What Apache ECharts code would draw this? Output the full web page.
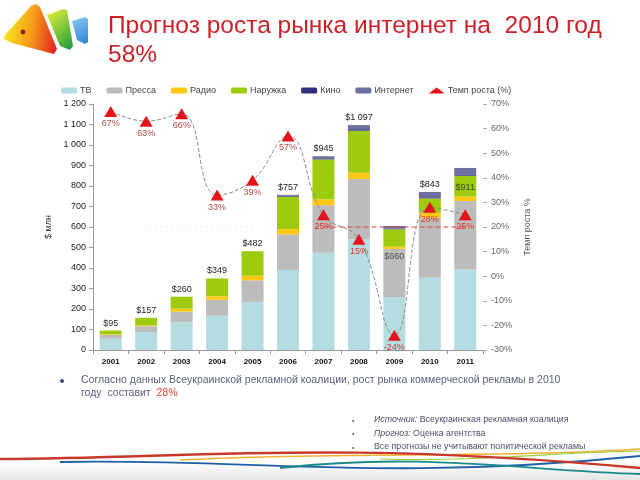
<!DOCTYPE html>
<html><head><meta charset="utf-8">
<script src="https://cdn.jsdelivr.net/npm/echarts@6/dist/echarts.min.js"></script>
<style>html,body{margin:0;padding:0;background:#fff}#c{width:640px;height:480px}</style>
</head><body><div id="c"></div>
<script>
const years = ['2001','2002','2003','2004','2005','2006','2007','2008','2009','2010','2011'];
const tv       = [55, 88, 135, 167, 234, 390, 475, 540, 257, 353, 393];
const press    = [18, 28, 52, 78, 106, 174, 231, 294, 236, 292, 334];
const radio    = [4, 4, 14, 17, 22, 26, 29, 31, 11, 25, 21];
const outdoor  = [18, 37, 59, 87, 120, 158, 195, 205, 85, 70, 102];
const cinema   = [0, 0, 0, 0, 0, 4, 5, 7, 3, 5, 4];
const internet = [0, 0, 0, 0, 0, 5, 10, 20, 13, 26, 34];
const growth   = [67, 63, 66, 33, 39, 57, 25, 15, -24, 28, 25];
const totalLabels = ['$95','$157','$260','$349','$482','$757','$945','$1 097','$660','$843','$911'];
const refRed   = [null, null, null, null, null, null, 20, 20, 20, 20, 20];
const refGray  = [null, 20, 20, 20, 20, null, null, null, null, null, null];

const FONT = 'Liberation Sans';
const chart = echarts.init(document.getElementById('c'));

const totalData = internet.map((v, i) => {
  if (i === 8) return {value: v, label: {offset: [0, 38], color: '#555'}};
  if (i === 10) return {value: v, label: {offset: [0, 27], color: '#3a4a20'}};
  return v;
});
const growthData = growth.map((v, i) => ({
  value: v,
  label: {color: i < 6 ? '#b24a48' : '#e3302c'}
}));

function bar(name, data, color, extra) {
  return Object.assign({
    name, type: 'bar', stack: 'total', data, barWidth: 22,
    itemStyle: {color}, emphasis: {disabled: true}
  }, extra || {});
}

const option = {
  animation: false,
  textStyle: {fontFamily: FONT},
  title: {
    text: 'Прогноз роста рынка интернет на  2010 год\n58%',
    left: 103, top: 7,
    textStyle: {color: '#cf1f26', fontSize: 24.5, fontWeight: 'normal', fontFamily: FONT, lineHeight: 29}
  },
  legend: {
    left: 56, top: 81, itemWidth: 16, itemHeight: 6, itemGap: 15,
    textStyle: {fontSize: 9, color: '#444', fontFamily: FONT, padding: [0, 0, 0, -2]},
    data: ['ТВ','Пресса','Радио','Наружка','Кино','Интернет',{name:'Темп роста (%)', icon:'triangle'}]
  },
  grid: {left: 93, right: 157, top: 104, bottom: 130, containLabel: false, outerBoundsMode: 'none'},
  xAxis: {
    type: 'category', data: years,
    axisLine: {lineStyle: {color: '#999'}},
    axisTick: {show: true, length: 4, lineStyle: {color: '#999'}},
    axisLabel: {color: '#111', fontSize: 8, fontWeight: 'bold', margin: 8}
  },
  yAxis: [
    {
      type: 'value', min: 0, max: 1200, interval: 100,
      name: '$ млн', nameLocation: 'middle', nameGap: 20, nameRotate: 90,
      nameTextStyle: {fontSize: 9, color: '#333'},
      axisLine: {show: true, lineStyle: {color: '#999'}},
      axisTick: {show: true, length: 4, lineStyle: {color: '#999'}},
      splitLine: {show: false},
      axisLabel: {color: '#222', fontSize: 9, margin: 7,
        formatter: v => v >= 1000 ? '1 ' + String(v - 1000).padStart(3, '0') : String(v)}
    },
    {
      type: 'value', min: -30, max: 70, interval: 10, position: 'right',
      name: 'Темп роста %', nameLocation: 'middle', nameGap: 34, nameRotate: 90,
      nameTextStyle: {fontSize: 9, color: '#555'},
      axisLine: {show: false},
      axisTick: {show: true, length: 4, lineStyle: {color: '#aaa'}},
      splitLine: {show: false},
      axisLabel: {color: '#666', fontSize: 9, margin: 8, formatter: v => v + '%'}
    }
  ],
  series: [
    bar('ТВ', tv, '#b4dde1'),
    bar('Пресса', press, '#bcbcbc'),
    bar('Радио', radio, '#ffc814'),
    bar('Наружка', outdoor, '#9dcb0e'),
    bar('Кино', cinema, '#2c2f7e'),
    bar('Интернет', totalData, '#6d6f9e', {
      label: {show: true, position: 'top', distance: 3, fontSize: 9, color: '#222',
        formatter: p => totalLabels[p.dataIndex]}
    }),
    {
      name: 'refRed', type: 'line', yAxisIndex: 1, data: refRed, z: 4, silent: true,
      symbol: 'none', connectNulls: false,
      lineStyle: {color: '#f03a36', type: [5, 3], width: 1.2},
      itemStyle: {color: '#f03a36'}, emphasis: {disabled: true}
    },
    {
      name: 'refGray', type: 'line', yAxisIndex: 1, data: refGray, z: 1, silent: true,
      symbol: 'none',
      lineStyle: {color: '#cccccc', type: [1, 4], width: 1},
      itemStyle: {color: '#cccccc'}, emphasis: {disabled: true}
    },
    {
      name: 'Темп роста (%)', type: 'line', yAxisIndex: 1, data: growthData,
      smooth: 0.45, symbol: 'triangle', symbolSize: [13, 11],
      itemStyle: {color: '#e5131a'},
      lineStyle: {color: '#8c8c8c', width: 1, type: 'dashed'},
      label: {show: true, position: 'bottom', distance: 2, fontSize: 9, formatter: p => p.value + '%'},
      emphasis: {disabled: true}, z: 5
    }
  ],
  graphic: [
    // logo
    {type: 'polygon', shape: {points: [[72,21],[85,17],[88,19],[88,42],[85,44],[77,40]]},
      style: {fill: new echarts.graphic.LinearGradient(0, 0, 1, 1, [
        {offset: 0, color: '#8ccdf4'}, {offset: 1, color: '#2f7fd8'}])}},
    {type: 'polygon', shape: {points: [[47,15],[63,9],[67,10],[73,46],[70,50],[60,46]]},
      style: {fill: new echarts.graphic.LinearGradient(0, 0.2, 1, 0.9, [
        {offset: 0, color: '#d4e83a'}, {offset: 1, color: '#22a040'}])}},
    {type: 'polygon', shape: {points: [[5,35],[31,6],[36,4],[40,7],[57,49],[54,54],[12,43],[4,39]]},
      style: {fill: new echarts.graphic.LinearGradient(0, 0.6, 1, 0.8, [
        {offset: 0, color: '#f8e61c'}, {offset: 0.5, color: '#f59a1a'}, {offset: 1, color: '#e3221e'}])}},
    {type: 'circle', shape: {cx: 23, cy: 32, r: 2.4}, style: {fill: '#9c1418'}},
    // bottom text
    {type: 'circle', shape: {cx: 62, cy: 381, r: 2}, style: {fill: '#3a4a8a'}},
    {type: 'text', left: 81, top: 374, style: {
      text: 'Согласно данных Всеукраинской рекламной коалиции, рост рынка коммерческой рекламы в 2010\nгоду  составит  {r|28%}',
      fontSize: 10.5, fill: '#5a5f7a', fontFamily: FONT, lineHeight: 12.5,
      rich: {r: {fill: '#e0433a', fontSize: 10.5, fontFamily: FONT}}}},
    {type: 'text', left: 352, top: 414, style: {
      text: '•\n•\n•', fontSize: 7, fill: '#555', lineHeight: 13.5, fontFamily: FONT}},
    {type: 'text', left: 374, top: 413, style: {
      text: '{i|Источник:} Всеукраинская рекламная коалиция\n{i|Прогноз:} Оценка агентства\nВсе прогнозы не учитывают политической рекламы',
      fontSize: 8.8, fill: '#4a4f6a', lineHeight: 13.5, fontFamily: FONT,
      rich: {i: {fontStyle: 'italic', fontSize: 8.8, fill: '#4a4f6a', fontFamily: FONT}}}},
    // bottom waves
    {type: 'rect', shape: {x: 0, y: 463, width: 640, height: 17},
      style: {fill: new echarts.graphic.LinearGradient(0, 0, 0, 1, [{offset: 0, color: '#ffffff'}, {offset: 1, color: '#e4e4e4'}])}},
    {type: 'bezierCurve', shape: {x1: 60, y1: 462, cpx1: 250, cpy1: 458, cpx2: 380, cpy2: 482, x2: 640, y2: 456},
      style: {stroke: '#1f5fa8', lineWidth: 1.8, fill: null}},
    {type: 'bezierCurve', shape: {x1: 280, y1: 468, cpx1: 420, cpy1: 452, cpx2: 520, cpy2: 470, x2: 640, y2: 474},
      style: {stroke: '#1a8a8a', lineWidth: 1.8, fill: null}},
    {type: 'bezierCurve', shape: {x1: 180, y1: 460, cpx1: 320, cpy1: 452, cpx2: 500, cpy2: 458, x2: 640, y2: 449},
      style: {stroke: '#f0b030', lineWidth: 1.4, fill: null}},
    {type: 'bezierCurve', shape: {x1: 380, y1: 459, cpx1: 480, cpy1: 462, cpx2: 560, cpy2: 452, x2: 640, y2: 451},
      style: {stroke: '#9acb3a', lineWidth: 1.2, fill: null}},
    {type: 'bezierCurve', shape: {x1: 0, y1: 459, cpx1: 200, cpy1: 458, cpx2: 330, cpy2: 440, x2: 640, y2: 468},
      style: {stroke: '#c8382a', lineWidth: 2.4, fill: null}}
  ]
};
chart.setOption(option);
</script>
</body></html>
